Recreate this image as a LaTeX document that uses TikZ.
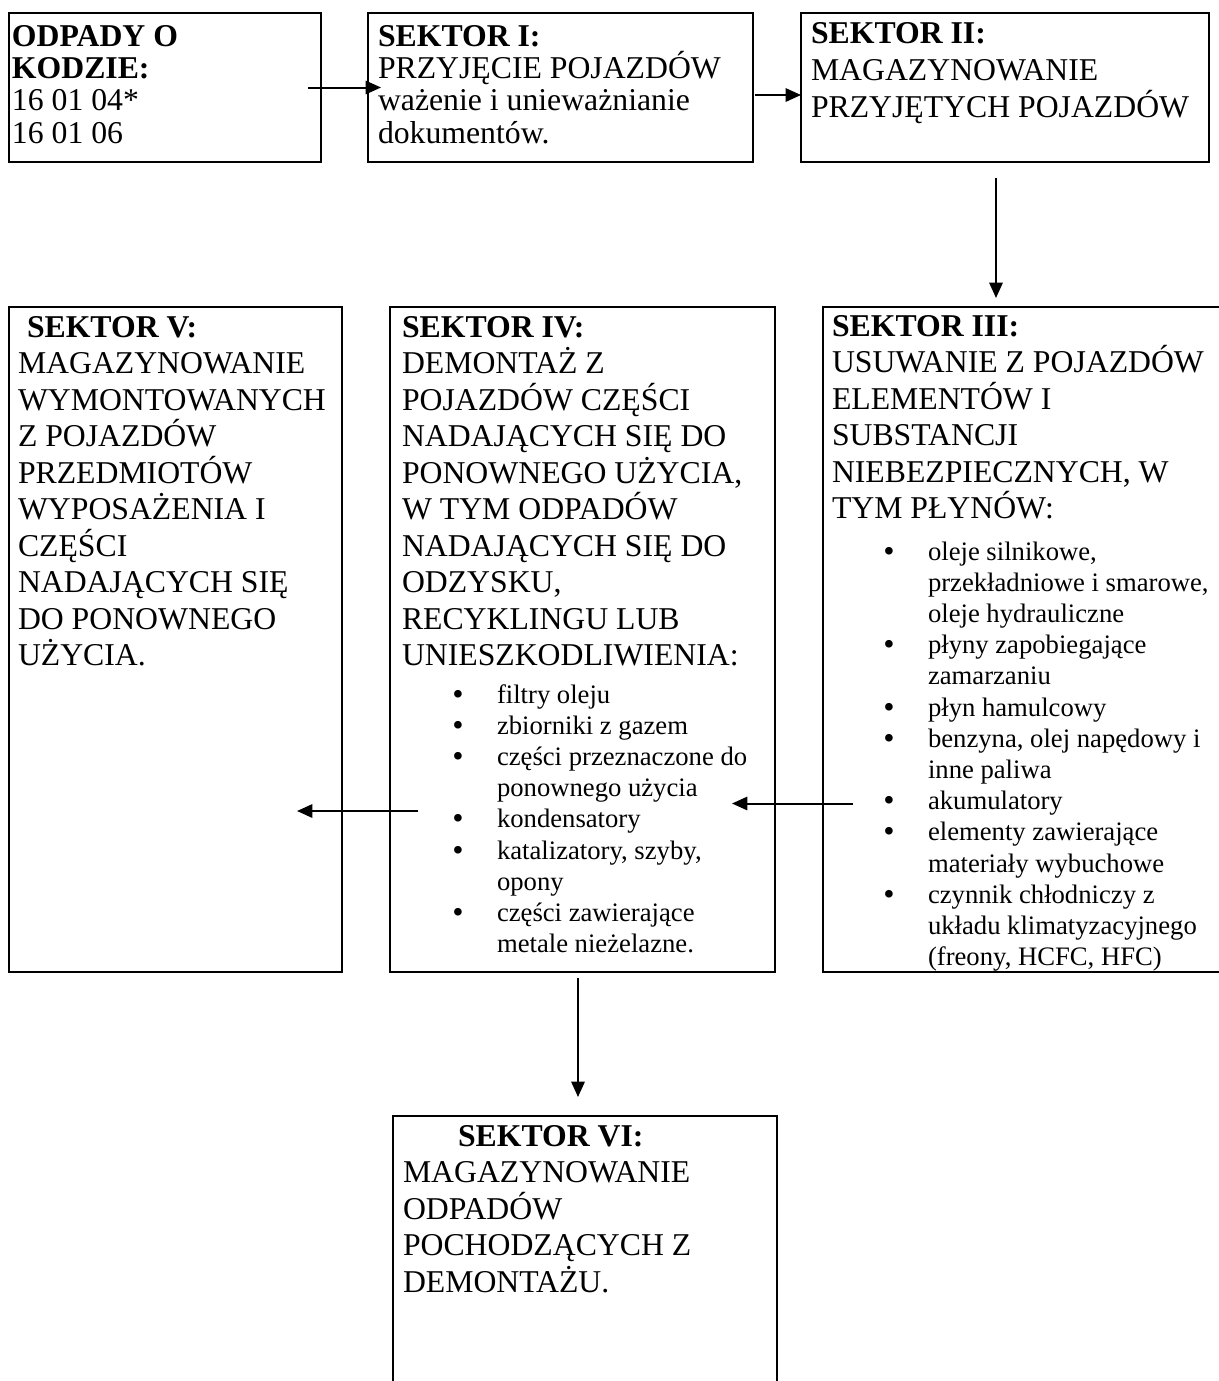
\documentclass[tikz,border=0pt]{standalone}
\usepackage{fontspec}
\setmainfont{Liberation Serif}
\usetikzlibrary{arrows.meta,calc}
\newcommand\stk[1]{\vtop{\halign{##\hfil\cr#1\crcr}}}
\newcommand\bul{\makebox[33pt][l]{\fontsize{21pt}{23pt}\selectfont\bfseries •}}
\newcommand\ind{\hspace*{33pt}}
\begin{document}
\begin{tikzpicture}[x=0.75pt,y=-0.75pt,
  box/.style={draw, line width=1.4pt, inner sep=0pt, outer sep=0pt, rectangle},
  arr/.style={line width=1.5pt, -{Triangle[length=11.5pt,width=10pt]}},
  big/.style={anchor=base west, inner sep=0pt, outer sep=0pt, font=\fontsize{23.8pt}{27.4pt}\selectfont},
  tight/.style={anchor=base west, inner sep=0pt, outer sep=0pt, font=\fontsize{23.8pt}{24.3pt}\selectfont},
  small/.style={anchor=base west, inner sep=0pt, outer sep=0pt, font=\fontsize{20pt}{23.4pt}\selectfont}]
\useasboundingbox (0,0) rectangle (1219,1381);
\fill[white] (0,0) rectangle (1219,1381);

% boxes
\node[box, minimum width=234pt, minimum height=111.75pt] (b1) at (165,87.5) {};
\node[box, minimum width=288.75pt, minimum height=111.75pt] (b2) at (560.5,87.5) {};
\node[box, minimum width=306pt, minimum height=111.75pt] (b3) at (1005,87.5) {};
\node[box, minimum width=298.5pt, minimum height=498.75pt] (b4) at (1022,639.5) {};
\node[box, minimum width=288.75pt, minimum height=498.75pt] (b5) at (582.5,639.5) {};
\node[box, minimum width=249.75pt, minimum height=498.75pt] (b6) at (175.5,639.5) {};
\node[box, minimum width=288pt, minimum height=209.25pt] (b7) at (585,1255.5) {};

% texts
\node[tight] (t1) at (12,46) {\stk{\textbf{ODPADY O}\cr \textbf{KODZIE:}\cr 16 01 04*\cr 16 01 06}};
\node[tight] (t2) at (378,46) {\stk{\textbf{SEKTOR I:}\cr PRZYJĘCIE POJAZDÓW\cr ważenie i unieważnianie\cr dokumentów.}};
\node[big, font=\fontsize{23.8pt}{27.75pt}\selectfont] (t3) at (811,43) {\stk{\textbf{SEKTOR II:}\cr MAGAZYNOWANIE\cr PRZYJĘTYCH POJAZDÓW}};

\node[big] (t4) at (832,336) {\stk{\textbf{SEKTOR III:}\cr USUWANIE Z POJAZDÓW\cr ELEMENTÓW I\cr SUBSTANCJI\cr NIEBEZPIECZNYCH, W\cr TYM PŁYNÓW:}};
\node[small] (l4) at (884,560) {\stk{\bul oleje silnikowe,\cr \ind przekładniowe i smarowe,\cr \ind oleje hydrauliczne\cr
\bul płyny zapobiegające\cr \ind zamarzaniu\cr
\bul płyn hamulcowy\cr
\bul benzyna, olej napędowy i\cr \ind inne paliwa\cr
\bul akumulatory\cr
\bul elementy zawierające\cr \ind materiały wybuchowe\cr
\bul czynnik chłodniczy z\cr \ind układu klimatyzacyjnego\cr \ind (freony, HCFC, HFC)}};

\node[big] (t5) at (402,337) {\stk{\textbf{SEKTOR IV:}\cr DEMONTAŻ Z\cr POJAZDÓW CZĘŚCI\cr NADAJĄCYCH SIĘ DO\cr PONOWNEGO UŻYCIA,\cr W TYM ODPADÓW\cr NADAJĄCYCH SIĘ DO\cr ODZYSKU,\cr RECYKLINGU LUB\cr UNIESZKODLIWIENIA:}};
\node[small] (l5) at (453,703) {\stk{\bul filtry oleju\cr
\bul zbiorniki z gazem\cr
\bul części przeznaczone do\cr \ind ponownego użycia\cr
\bul kondensatory\cr
\bul katalizatory, szyby,\cr \ind opony\cr
\bul części zawierające\cr \ind metale nieżelazne.}};

\node[big] (t6) at (18,337) {\stk{\hspace*{6.75pt}\textbf{SEKTOR V:}\cr MAGAZYNOWANIE\cr WYMONTOWANYCH\cr Z POJAZDÓW\cr PRZEDMIOTÓW\cr WYPOSAŻENIA I\cr CZĘŚCI\cr NADAJĄCYCH SIĘ\cr DO PONOWNEGO\cr UŻYCIA.}};

\node[big] (t7) at (403,1146) {\stk{\hspace*{41.25pt}\textbf{SEKTOR VI:}\cr MAGAZYNOWANIE\cr ODPADÓW\cr POCHODZĄCYCH Z\cr DEMONTAŻU.}};

% arrows
\draw[arr] ($(b1.east)+(-13,0)$) -- ($(b2.west)+(13,0)$);
\draw[arr] ($(b2.east)+(2,7.5)$) -- ($(b3.west)+(0,7.5)$);
\draw[arr] ($(b3.south)+(-9,16)$) -- ($(b4.north)+(-26,-9)$);
\draw[arr] ($(b4.west)+(30,164)$) -- ($(b5.east)+(-43,164)$);
\draw[arr] ($(b5.west)+(28,171.5)$) -- ($(b6.east)+(-45,171.5)$);
\draw[arr] ($(b5.south)+(-4.5,6)$) -- ($(b7.north)+(-7,-19)$);
\end{tikzpicture}
\end{document}
